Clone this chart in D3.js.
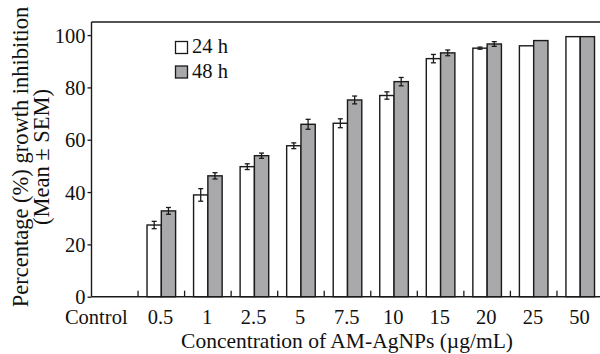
<!DOCTYPE html>
<html>
<head>
<meta charset="utf-8">
<script src="https://cdn.jsdelivr.net/npm/d3@7"></script>
<style>
  body { margin: 0; background: #fff; }
  svg text { font-family: "Liberation Serif", "Times New Roman", serif; fill: #111; }
</style>
</head>
<body>
<div id="chart"></div>
<script>
// data
const categories = ['Control', '0.5', '1', '2.5', '5', '7.5', '10', '15', '20', '25', '50'];
const series = ['24 h', '48 h'];
const mean24 = [0, 27.4, 38.9, 49.7, 57.7, 66.3, 76.9, 91.0, 95.0, 95.9, 99.4];
const sem24 = [0, 1.4, 2.4, 1.1, 1.1, 1.7, 1.4, 1.6, 0.4, 0, 0];
const mean48 = [0, 32.8, 46.2, 53.9, 65.9, 75.2, 82.2, 93.2, 96.6, 97.9, 99.4];
const sem48 = [0, 1.3, 1.2, 1.0, 1.9, 1.5, 1.6, 1.1, 0.9, 0, 0];
const yTicks = [0, 20, 40, 60, 80, 100];

const width = 600, height = 354;
const margin = { top: 22, left: 91.5, bottom: 57.3 };
const plotRight = 603.5;

const svg = d3.select('#chart').append('svg')
  .attr('width', width)
  .attr('height', height);

const x = d3.scaleBand().domain(categories).range([margin.left, plotRight]).padding(0);
const y = d3.scaleLinear().domain([0, 105]).range([height - margin.bottom, margin.top]);

const barW = x.bandwidth() * 0.307;
const colors = ['#ffffff', '#a9a9ac'];
const rows = categories.map((c, i) => ({
  cat: c,
  vals: [
    { s: 0, m: mean24[i], e: sem24[i] },
    { s: 1, m: mean48[i], e: sem48[i] }
  ]
}));

// bars
const groups = svg.append('g').selectAll('g')
  .data(rows.filter(d => d.vals[0].m > 0))
  .join('g')
  .attr('transform', d => `translate(${x(d.cat) + x.bandwidth() / 2}, 0)`);

groups.selectAll('rect')
  .data(d => d.vals)
  .join('rect')
  .attr('x', d => d.s === 0 ? -barW : 0)
  .attr('y', d => y(d.m))
  .attr('width', barW)
  .attr('height', d => y(0) - y(d.m))
  .attr('fill', d => colors[d.s])
  .attr('stroke', '#1a1a1a')
  .attr('stroke-width', 1.4);

// error bars
const errs = groups.selectAll('g.err')
  .data(d => d.vals.filter(v => v.e > 0))
  .join('g')
  .attr('class', 'err')
  .attr('transform', d => `translate(${d.s === 0 ? -barW / 2 : barW / 2}, 0)`)
  .attr('stroke', '#1a1a1a')
  .attr('stroke-width', 1.3);
errs.append('line').attr('y1', d => y(d.m - d.e)).attr('y2', d => y(d.m + d.e));
errs.append('line').attr('x1', -2.5).attr('x2', 2.5).attr('y1', d => y(d.m + d.e)).attr('y2', d => y(d.m + d.e));
errs.append('line').attr('x1', -2.5).attr('x2', 2.5).attr('y1', d => y(d.m - d.e)).attr('y2', d => y(d.m - d.e));

// frame top line
svg.append('line')
  .attr('x1', margin.left).attr('x2', plotRight)
  .attr('y1', y(105)).attr('y2', y(105))
  .attr('stroke', '#1a1a1a').attr('stroke-width', 1.4);

// y axis
const yAxis = svg.append('g')
  .attr('transform', `translate(${margin.left}, 0)`)
  .call(d3.axisLeft(y).tickValues(yTicks).tickSize(4).tickPadding(2).tickSizeOuter(0));
yAxis.select('.domain').attr('stroke', '#1a1a1a').attr('stroke-width', 1.4).attr('d', `M0,${y(0)}V${y(105)}`);
yAxis.selectAll('.tick line').attr('stroke', '#1a1a1a').attr('stroke-width', 1.3);
yAxis.selectAll('.tick text').attr('font-size', 20.5).attr('dy', '0.34em')
  .style('font-family', '"Liberation Serif", serif').attr('fill', '#111');

// x axis: ticks between bands, pointing up
svg.append('line')
  .attr('x1', margin.left).attr('x2', plotRight)
  .attr('y1', y(0)).attr('y2', y(0))
  .attr('stroke', '#1a1a1a').attr('stroke-width', 1.4);
svg.append('g').selectAll('line')
  .data(categories.slice(1))
  .join('line')
  .attr('x1', d => x(d)).attr('x2', d => x(d))
  .attr('y1', y(0)).attr('y2', y(0) - 6)
  .attr('stroke', '#1a1a1a').attr('stroke-width', 1.3);
svg.append('g').selectAll('text')
  .data(categories)
  .join('text')
  .attr('x', (d, i) => x(d) + x.bandwidth() / 2 - (i === 0 ? 18.5 : 0.8))
  .attr('y', 324)
  .attr('text-anchor', 'middle')
  .attr('font-size', 20.5)
  .text(d => d);

// axis titles
svg.append('text')
  .attr('x', 347).attr('y', 347.5)
  .attr('text-anchor', 'middle')
  .attr('font-size', 21.5)
  .text('Concentration of AM-AgNPs (\u00b5g/mL)');

const yTitle = svg.append('text')
  .attr('transform', 'translate(27.5, 157) rotate(-90)')
  .attr('text-anchor', 'middle')
  .attr('font-size', 22.5);
yTitle.append('tspan').attr('x', 0).attr('y', 0).text('Percentage (%) growth inhibition');
yTitle.append('tspan').attr('x', 0).attr('y', 21.5).text('(Mean \u00b1 SEM)');

// legend
const legend = svg.append('g').selectAll('g')
  .data(series)
  .join('g')
  .attr('transform', (d, i) => `translate(175.5, ${41.5 + i * 24.5})`);
legend.append('rect')
  .attr('width', 12).attr('height', 12)
  .attr('fill', (d, i) => colors[i])
  .attr('stroke', '#1a1a1a').attr('stroke-width', 1.3);
legend.append('text')
  .attr('x', 16.5).attr('y', 11.5)
  .attr('font-size', 20.5)
  .text(d => d);
</script>
</body>
</html>
